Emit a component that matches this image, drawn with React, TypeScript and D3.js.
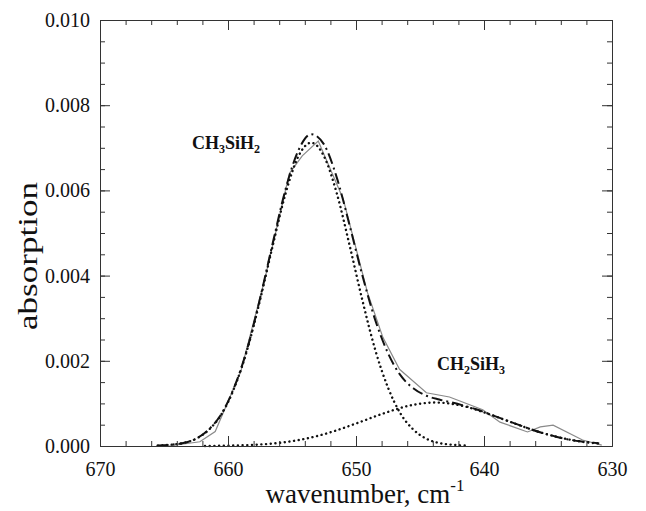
import React, { useEffect, useRef } from 'react'
import * as d3 from 'd3'

// wavenumber (cm-1) / absorption
const expWn = [664.6, 662.2, 661.0, 659.0, 657.1, 655.2, 654.2, 652.95, 651.0, 649.1, 647.9, 646.6, 644.5, 642.7, 640.1, 638.75, 636.6, 635.6, 634.6, 632.3, 630.8]
const expAbs = [0.0, 0.0001, 0.00034, 0.00175, 0.00395, 0.0064, 0.00681, 0.00716, 0.0058, 0.0036, 0.00255, 0.0018, 0.00125, 0.00115, 0.00085, 0.00056, 0.00033, 0.00045, 0.00049, 0.00014, 0.00002]

// fitted sum (dash-dot)
const fitWn = [665.5, 664.5, 663.5, 662.5, 661.5, 660.5, 659.5, 658.5, 657.5, 656.5, 655.5, 654.5, 653.5, 652.5, 651.5, 650.5, 649.5, 648.5, 647.5, 646.5, 645.5, 644.5, 643.5, 642.5, 641.5, 640.5, 639.5, 638.5, 637.5, 636.5, 635.5, 634.5, 633.5, 632.5, 631.5, 631.0]
const fitAbs = [0.00001, 0.00003, 0.00007, 0.00017, 0.00039, 0.00076, 0.00139, 0.00228, 0.00346, 0.00477, 0.00603, 0.00694, 0.00732, 0.00708, 0.0063, 0.00518, 0.004, 0.00296, 0.00218, 0.00165, 0.00135, 0.00118, 0.00109, 0.00102, 0.00094, 0.00085, 0.00074, 0.00063, 0.00052, 0.00041, 0.00031, 0.00023, 0.00016, 0.00011, 0.00008, 0.00006]

// CH3SiH2 component (dotted)
const ch3Wn = [665.5, 664.5, 663.5, 662.5, 661.5, 660.5, 659.5, 658.5, 657.5, 656.5, 655.5, 654.5, 653.5, 652.5, 651.5, 650.5, 649.5, 648.5, 647.5, 646.5, 645.5, 644.5, 643.5, 642.5, 641.5]
const ch3Abs = [0.00001, 0.00003, 0.00007, 0.00017, 0.00038, 0.00075, 0.00137, 0.00226, 0.00342, 0.00471, 0.00593, 0.0068, 0.00712, 0.0068, 0.00593, 0.00471, 0.00342, 0.00226, 0.00137, 0.00075, 0.00038, 0.00017, 0.00007, 0.00003, 0.00001]

// CH2SiH3 component (dotted)
const ch2Wn = [661.8, 659.8, 657.8, 655.8, 653.8, 651.8, 649.8, 647.8, 645.8, 643.8, 641.8, 639.8, 637.8, 635.8, 633.8, 631.8, 631.0]
const ch2Abs = [0.0, 0.00001, 0.00003, 0.00008, 0.00018, 0.00034, 0.00055, 0.00077, 0.00095, 0.00102, 0.00095, 0.00077, 0.00055, 0.00034, 0.00018, 0.00008, 0.00006]

const xTicks = [670, 660, 650, 640, 630]
const yTicks = [0, 0.002, 0.004, 0.006, 0.008, 0.01]

const W = 646, H = 511
const margin = { top: 20, right: 34, bottom: 65, left: 100 }
const FONT = '"Liberation Serif", "Times New Roman", serif'

function pts(xs: number[], ys: number[]) {
  return xs.map((x, i) => [x, ys[i]] as [number, number])
}

export default function App() {
  const gRef = useRef<SVGGElement>(null)

  const w = W - margin.left - margin.right
  const h = H - margin.top - margin.bottom

  const x = d3.scaleLinear().domain([670, 630]).range([0, w])
  const y = d3.scaleLinear().domain([0, 0.01]).range([h, 0])

  const line = d3.line<[number, number]>()
    .x(d => x(d[0]))
    .y(d => y(d[1]))
    .curve(d3.curveMonotoneX)
  const rough = d3.line<[number, number]>()
    .x(d => x(d[0]))
    .y(d => y(d[1]))

  useEffect(() => {
    const g = d3.select(gRef.current)
    g.selectAll('*').remove()

    const minorX = d3.range(670, 629, -2)
    const minorY = d3.range(0, 0.01001, 0.0005)

    // bottom
    g.append('g').attr('transform', `translate(0,${h})`)
      .call(d3.axisBottom(x).tickValues(minorX).tickSize(-5).tickSizeOuter(0).tickFormat(() => ''))
    g.append('g').attr('transform', `translate(0,${h})`)
      .call(d3.axisBottom(x).tickValues(xTicks).tickSize(-10).tickSizeOuter(0).tickPadding(16).tickFormat(d3.format('d')))
    // top
    g.append('g')
      .call(d3.axisTop(x).tickValues(minorX).tickSize(-5).tickSizeOuter(0).tickFormat(() => ''))
    g.append('g')
      .call(d3.axisTop(x).tickValues(xTicks).tickSize(-10).tickSizeOuter(0).tickFormat(() => ''))
    // left
    g.append('g')
      .call(d3.axisLeft(y).tickValues(minorY).tickSize(-5).tickSizeOuter(0).tickFormat(() => ''))
    g.append('g')
      .call(d3.axisLeft(y).tickValues(yTicks).tickSize(-10).tickSizeOuter(0).tickPadding(10).tickFormat(d3.format('.3f')))
    // right
    g.append('g').attr('transform', `translate(${w},0)`)
      .call(d3.axisRight(y).tickValues(minorY).tickSize(-5).tickSizeOuter(0).tickFormat(() => ''))
    g.append('g').attr('transform', `translate(${w},0)`)
      .call(d3.axisRight(y).tickValues(yTicks).tickSize(-10).tickSizeOuter(0).tickFormat(() => ''))

    g.selectAll('text').attr('font-family', FONT).attr('font-size', 20).attr('fill', '#111')
    g.selectAll('line').attr('stroke', '#333')
    g.selectAll('path.domain').attr('stroke', '#333')
  }, [])

  return (
    <svg width={W} height={H} style={{ position: 'absolute', left: 0, top: 0, background: '#fff' }}>
      <g transform={`translate(${margin.left},${margin.top})`}>
        <path d={rough(pts(expWn, expAbs)) || ''} fill="none" stroke="#8a8a8a" strokeWidth={1.2} />
        <path d={line(pts(ch3Wn, ch3Abs)) || ''} fill="none" stroke="#111" strokeWidth={2.4}
          strokeDasharray="0.1,4.6" strokeLinecap="round" />
        <path d={line(pts(ch2Wn, ch2Abs)) || ''} fill="none" stroke="#111" strokeWidth={2.4}
          strokeDasharray="0.1,4.6" strokeLinecap="round" />
        <path d={line(pts(fitWn, fitAbs)) || ''} fill="none" stroke="#111" strokeWidth={2}
          strokeDasharray="11,4,2,4" />
        <g ref={gRef} />

        <text x={92} y={129} fontFamily={FONT} fontWeight="bold" fontSize={18} fill="#111">
          CH<tspan fontSize={12} dy={4}>3</tspan><tspan dy={-4}>SiH</tspan><tspan fontSize={12} dy={4}>2</tspan>
        </text>
        <text x={337} y={350} fontFamily={FONT} fontWeight="bold" fontSize={18} fill="#111">
          CH<tspan fontSize={12} dy={4}>2</tspan><tspan dy={-4}>SiH</tspan><tspan fontSize={12} dy={4}>3</tspan>
        </text>
      </g>

      <text transform="translate(37,256) rotate(-90)" textAnchor="middle" fontFamily={FONT} fontSize={28}
        textLength={148} lengthAdjust="spacingAndGlyphs" fill="#111">
        absorption
      </text>
      <text x={365} y={503} textAnchor="middle" fontFamily={FONT} fontSize={27} fill="#111">
        wavenumber, cm<tspan fontSize={17} dy={-12}>-1</tspan>
      </text>
    </svg>
  )
}
